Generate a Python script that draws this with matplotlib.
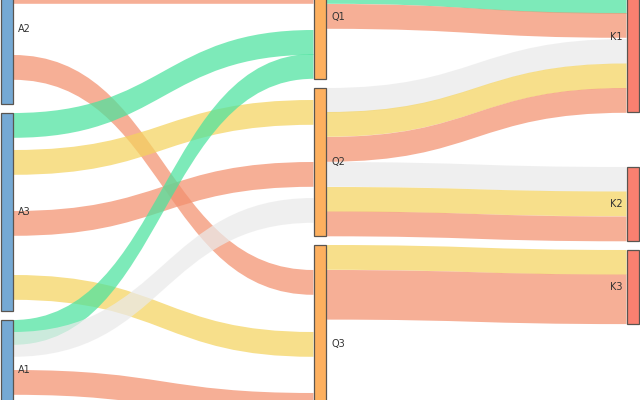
import numpy as np
import matplotlib
matplotlib.use("Agg")
import matplotlib.pyplot as plt
from matplotlib.path import Path
from matplotlib.patches import PathPatch, Rectangle

# nodes, their column and value
nodes = ["A2", "A3", "A1", "Q1", "Q2", "Q3", "K1", "K2", "K3"]
node_col = [0, 0, 0, 1, 1, 1, 2, 2, 2]
node_value = [6, 8, 4, 5, 6, 8, 6, 3, 3]

# links
link_src = ["A2", "A2", "A3", "A3", "A3", "A3", "A1", "A1", "A1",
            "Q1", "Q1", "Q2", "Q2", "Q2", "Q2", "Q2", "Q2", "Q3", "Q3"]
link_dst = ["Q1", "Q3", "Q1", "Q2", "Q2", "Q3", "Q1", "Q2", "Q3",
            "K1", "K1", "K1", "K1", "K1", "K2", "K2", "K2", "K3", "K3"]
link_value = [1, 1, 1, 1, 1, 1, 1, 1, 1,
              1, 1, 1, 1, 1, 1, 1, 1, 1, 2]
link_kind = ["s", "s", "g", "y", "s", "y", "g", "n", "s",
             "g", "s", "n", "y", "s", "n", "y", "s", "y", "s"]

# layout (pixels, y grows downward)
unit = 24.8
node_top = [-45, 113, 320, -45, 87.5, 245, -37, 167, 250]
col_x = [0.5, 313.5, 626.5]
node_w = 12.5
link_y_out = [-21, 55, 113, 150, 211, 275, 320, 332, 370,
              -21, 4, 88, 112, 137, 162, 187, 211.5, 245, 270]
link_y_in = [-21, 270, 30, 100, 162, 332, 54, 198, 393,
             -11, 13, 39, 63.5, 88, 167, 191.5, 216.5, 250, 274.5]

kind_color = {"s": "#f3906e", "g": "#4be39e", "y": "#f4d35e", "n": "#eaeaea"}
col_color = ["#75a9d4", "#fdb05f", "#fa8070"]

fig = plt.figure(figsize=(6.4, 4), dpi=100)
ax = fig.add_axes([0, 0, 1, 1])
ax.set_xlim(0, 640)
ax.set_ylim(400, 0)
ax.axis("off")

idx = {n: i for i, n in enumerate(nodes)}

for s, d, v, k, y0, y1 in zip(link_src, link_dst, link_value, link_kind,
                              link_y_out, link_y_in):
    x0 = col_x[node_col[idx[s]]] + node_w
    x1 = col_x[node_col[idx[d]]]
    xm = (x0 + x1) / 2
    w = v * unit
    verts = [(x0, y0), (xm, y0), (xm, y1), (x1, y1),
             (x1, y1 + w), (xm, y1 + w), (xm, y0 + w), (x0, y0 + w),
             (x0, y0)]
    codes = [Path.MOVETO, Path.CURVE4, Path.CURVE4, Path.CURVE4,
             Path.LINETO, Path.CURVE4, Path.CURVE4, Path.CURVE4,
             Path.CLOSEPOLY]
    ax.add_patch(PathPatch(Path(verts, codes), facecolor=kind_color[k],
                           edgecolor="none", alpha=0.72, zorder=1))

for i, n in enumerate(nodes):
    c = node_col[i]
    top = node_top[i]
    h = node_value[i] * unit
    ax.add_patch(Rectangle((col_x[c], top), node_w, h, facecolor=col_color[c],
                           edgecolor="#5a5550", lw=0.9, zorder=3))
    yc = top + h / 2
    if c == 2:
        ax.text(col_x[c] - 4, yc, n, ha="right", va="center", fontsize=7,
                color="#333333", zorder=4)
    else:
        ax.text(col_x[c] + node_w + 5, yc, n, ha="left", va="center",
                fontsize=7, color="#333333", zorder=4)

fig.savefig("out.png", dpi=100)
